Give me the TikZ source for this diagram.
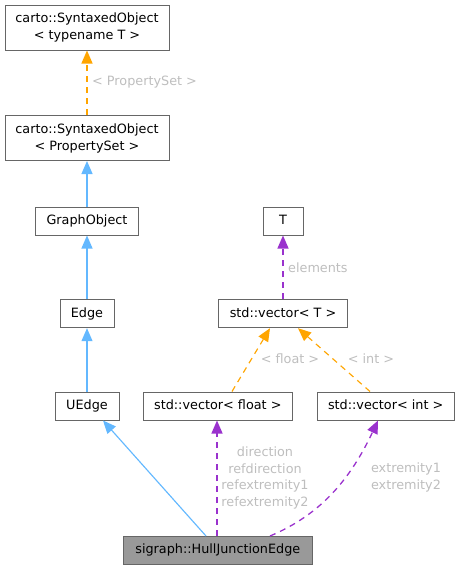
\documentclass[tikz,border=0pt]{standalone}
\usepackage{fontspec}
\setmainfont{DejaVu Sans}
\usetikzlibrary{arrows.meta}
\definecolor{boxline}{HTML}{666666}
\definecolor{inh}{HTML}{63B8FF}
\definecolor{tmpl}{HTML}{FFA500}
\definecolor{usage}{HTML}{9A32CD}
\definecolor{lbl}{HTML}{BEBEBE}
\definecolor{cur}{HTML}{999999}
\begin{document}
\begin{tikzpicture}[x=1pt,y=-1pt,
  box/.style={draw=boxline, line width=1pt, fill=white, inner sep=0pt, align=center,
     font=\fontsize{12.8}{17}\selectfont},
  onel/.style={text height=9.5pt, text depth=2.7pt, minimum height=28pt},
  tip/.style={-{Triangle[length=13pt,width=11pt]}},
  inhline/.style={tip, color=inh, line width=1.15pt},
  tmplline/.style={tip, color=tmpl, line width=1.15pt, dash pattern=on 6pt off 5pt},
  useline/.style={tip, color=usage, line width=1.3pt, dash pattern=on 6pt off 5pt},
  elbl/.style={text=lbl, font=\fontsize{12.8}{16.7}\selectfont, align=center, inner sep=0pt}]
\useasboundingbox (0,0) rectangle (460,570);
\node[box, minimum width=164pt, minimum height=45pt] (so) at (87,27.5) {carto::SyntaxedObject\\< typename T >};
\node[box, minimum width=164pt, minimum height=45pt] (sop) at (87,138) {carto::SyntaxedObject\\< PropertySet >};
\node[box, onel, minimum width=103pt] (go) at (87,221) {GraphObject};
\node[box, onel, minimum width=54pt] (edge) at (87,313.7) {Edge};
\node[box, onel, minimum width=64pt] (uedge) at (87,406) {UEdge};
\node[box, onel, minimum width=40pt] (t) at (283,221) {T};
\node[box, onel, minimum width=129pt] (vt) at (283,313.7) {std::vector< T >};
\node[box, onel, minimum width=149pt] (vf) at (217.8,406) {std::vector< float >};
\node[box, onel, minimum width=137pt] (vi) at (385.7,406) {std::vector< int >};
\node[box, onel, fill=cur, minimum width=189pt] (hje) at (217.8,550.5) {sigraph::HullJunctionEdge};

\draw[tmplline] (sop.north) -- (so.south);
\node[elbl, anchor=west] (lps) at (92,82) {< PropertySet >};
\draw[inhline] (go.north) -- (sop.south);
\draw[inhline] (edge.north) -- (go.south);
\draw[inhline] (uedge.north) -- (edge.south);
\draw[inhline] (hje.north -| 206,0) -- (uedge.south -| 103,0);
\draw[useline] (vt.north) -- (t.south);
\node[elbl, anchor=west] (lel) at (288,268) {elements};
\draw[tmplline] (vf.north -| 232,0) -- (vt.south -| 270,0);
\node[elbl] (lfl) at (290,359) {< float >};
\draw[tmplline] (vi.north -| 370,0) -- (vt.south -| 298,0);
\node[elbl] (lin) at (371,359) {< int >};
\draw[useline] (hje.north -| 217,0) -- (vf.south -| 217,0);
\node[elbl] (ldir) at (265,478) {direction\\refdirection\\refextremity1\\refextremity2};
\draw[useline] (hje.north -| 270,0) .. controls (320,515) and (350,480) .. (vi.south -| 378,0);
\node[elbl] (lext) at (406,477.5) {extremity1\\extremity2};
\end{tikzpicture}
\end{document}
